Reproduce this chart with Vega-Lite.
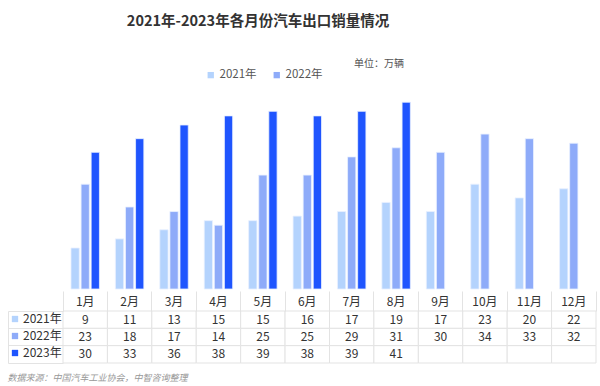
{
  "$schema": "https://vega.github.io/schema/vega-lite/v6.json",
  "padding": {"left": 7, "right": 5, "top": 13, "bottom": 4},
  "background": "white",
  "title": {"text": "2021年-2023年各月份汽车出口销量情况", "fontSize": 14.5, "fontWeight": "bold", "font": "Noto Sans CJK SC", "color": "#333333", "anchor": "middle", "dx": -44, "offset": 30},
  "config": {"font": "Noto Sans CJK SC", "view": {"stroke": null}},
  "datasets": {
    "sales": [
      {"month": "1月", "year": "2021年", "value": 9},
      {"month": "2月", "year": "2021年", "value": 11},
      {"month": "3月", "year": "2021年", "value": 13},
      {"month": "4月", "year": "2021年", "value": 15},
      {"month": "5月", "year": "2021年", "value": 15},
      {"month": "6月", "year": "2021年", "value": 16},
      {"month": "7月", "year": "2021年", "value": 17},
      {"month": "8月", "year": "2021年", "value": 19},
      {"month": "9月", "year": "2021年", "value": 17},
      {"month": "10月", "year": "2021年", "value": 23},
      {"month": "11月", "year": "2021年", "value": 20},
      {"month": "12月", "year": "2021年", "value": 22},
      {"month": "1月", "year": "2022年", "value": 23},
      {"month": "2月", "year": "2022年", "value": 18},
      {"month": "3月", "year": "2022年", "value": 17},
      {"month": "4月", "year": "2022年", "value": 14},
      {"month": "5月", "year": "2022年", "value": 25},
      {"month": "6月", "year": "2022年", "value": 25},
      {"month": "7月", "year": "2022年", "value": 29},
      {"month": "8月", "year": "2022年", "value": 31},
      {"month": "9月", "year": "2022年", "value": 30},
      {"month": "10月", "year": "2022年", "value": 34},
      {"month": "11月", "year": "2022年", "value": 33},
      {"month": "12月", "year": "2022年", "value": 32},
      {"month": "1月", "year": "2023年", "value": 30},
      {"month": "2月", "year": "2023年", "value": 33},
      {"month": "3月", "year": "2023年", "value": 36},
      {"month": "4月", "year": "2023年", "value": 38},
      {"month": "5月", "year": "2023年", "value": 39},
      {"month": "6月", "year": "2023年", "value": 38},
      {"month": "7月", "year": "2023年", "value": 39},
      {"month": "8月", "year": "2023年", "value": 41},
      {"month": "9月", "year": "2023年", "value": null},
      {"month": "10月", "year": "2023年", "value": null},
      {"month": "11月", "year": "2023年", "value": null},
      {"month": "12月", "year": "2023年", "value": null}
    ]
  },
  "vconcat": [
    {
      "width": 533,
      "height": 205,
      "data": {"name": "sales"},
      "title": {"text": "单位：万辆", "orient": "top", "anchor": "end", "frame": "bounds", "dx": -192, "offset": 0, "fontSize": 10, "fontWeight": "normal", "color": "#555555"},
      "mark": {"type": "bar", "stroke": "#e8f0ff", "strokeWidth": 0.8},
      "encoding": {
        "x": {"field": "month", "type": "ordinal", "sort": null, "scale": {"paddingInner": 0.36, "paddingOuter": 0.18}, "axis": null},
        "xOffset": {"field": "year", "type": "nominal", "sort": null, "scale": {"paddingInner": 0.18, "paddingOuter": 0}},
        "y": {"field": "value", "type": "quantitative", "scale": {"domain": [0, 45]}, "axis": null},
        "color": {
          "field": "year", "type": "nominal", "sort": null,
          "scale": {"domain": ["2021年", "2022年", "2023年"], "range": ["#b4d3fd", "#8eabf9", "#1f55fe"]},
          "legend": {
            "values": ["2021年", "2022年"],
            "orient": "none", "legendX": 142, "legendY": -15,
            "direction": "horizontal", "title": null,
            "symbolType": "square", "symbolSize": 40, "symbolStrokeWidth": 0,
            "labelFontSize": 11.5, "labelColor": "#555555", "labelOffset": 3, "columnPadding": 14
          }
        }
      }
    },
    {
      "width": 533,
      "height": 52,
      "data": {"name": "sales"},
      "title": {"text": "数据来源：中国汽车工业协会，中智咨询整理", "orient": "bottom", "anchor": "start", "fontSize": 9, "fontStyle": "italic", "fontWeight": "normal", "color": "#999999", "offset": 10},
      "encoding": {
        "x": {"field": "month", "type": "ordinal", "sort": null, "scale": {"paddingInner": 0, "paddingOuter": 0},
          "axis": {"orient": "top", "title": null, "labelAngle": 0, "ticks": true, "bandPosition": 1, "tickExtra": true, "tickSize": 20, "tickColor": "#e3e3e3", "tickWidth": 1, "domain": false, "labelPadding": -10, "labelBaseline": "middle", "labelFontSize": 12, "labelColor": "#333333", "grid": false}},
        "y": {"field": "year", "type": "nominal", "sort": null, "scale": {"paddingInner": 0, "paddingOuter": 0},
          "axis": {"title": null, "labels": false, "ticks": true, "bandPosition": 1, "tickExtra": true, "offset": 55, "tickSize": -55, "tickColor": "#e3e3e3", "tickWidth": 1, "domainColor": "#e3e3e3", "grid": false}}
      },
      "layer": [
        {"mark": {"type": "rect", "fill": "white", "stroke": "#e3e3e3", "strokeWidth": 1}},
        {"transform": [{"filter": "datum.value != null"}], "mark": {"type": "text", "fontSize": 12, "color": "#333333"}, "encoding": {"text": {"field": "value", "type": "quantitative"}}},
        {"mark": {"type": "point", "shape": "square", "filled": true, "opacity": 0},
          "encoding": {"color": {"field": "year", "type": "nominal", "sort": null,
            "legend": {"orient": "none", "legendX": -54, "legendY": 2, "title": null, "symbolType": "square", "symbolSize": 40, "symbolOpacity": 1, "symbolStrokeWidth": 0, "labelFontSize": 12, "labelColor": "#333333", "labelOffset": 2, "rowPadding": 5}}}}
      ]
    }
  ],
  "resolve": {"scale": {"x": "independent", "y": "independent"}, "legend": {"color": "independent"}},
  "spacing": 0
}
